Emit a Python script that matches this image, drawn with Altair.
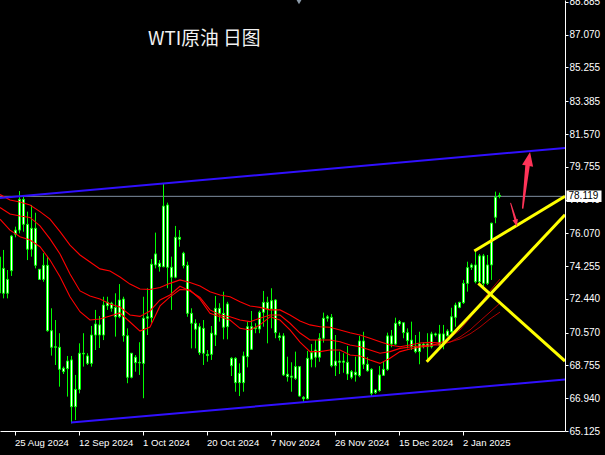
import json
import altair as alt
import pandas as pd

# ---- daily WTI bars (bar index on the time axis, one per trading day) ----
bars = list(range(-1, 125))
opens = [72.77, 74.13, 72.75, 74.00, 76.02, 76.25, 77.95, 76.57, 75.19, 76.35,
         74.08, 73.52, 74.30, 70.68, 69.79, 69.76, 68.60, 68.58, 69.06, 66.47,
         67.43, 69.43, 69.28, 68.87, 70.44, 71.00, 70.44, 72.06, 72.20, 71.97,
         71.45, 72.43, 70.40, 68.10, 69.21, 68.93, 68.87, 71.37, 71.40, 74.32,
         74.41, 74.22, 77.64, 74.19, 73.64, 75.85, 74.97, 74.30, 71.64, 71.09,
         70.90, 69.43, 69.37, 69.37, 70.44, 71.92, 71.64, 70.90, 69.15, 69.15,
         67.80, 67.80, 69.24, 70.90, 70.85, 70.77, 71.70, 72.25, 71.88, 72.38,
         70.39, 70.39, 68.27, 68.17, 68.04, 68.69, 66.99, 66.91, 69.10, 69.61,
         69.21, 70.26, 71.37, 71.42, 69.00, 68.93, 69.00, 68.93, 68.41, 68.23,
         68.19, 70.11, 68.82, 68.54, 67.25, 67.36, 68.21, 68.54, 70.39, 69.94,
         71.05, 71.12, 70.57, 70.16, 69.83, 69.52, 69.93, 69.79, 69.79, 70.50,
         69.89, 69.89, 70.40, 70.62, 71.42, 71.97, 72.23, 73.30, 74.19, 74.32,
         73.39, 74.82, 73.30, 74.32, 76.96, 78.17]
highs = [74.85, 75.15, 74.04, 75.98, 76.44, 78.41, 78.10, 77.27, 77.64, 77.21,
         74.08, 74.97, 74.82, 71.92, 71.27, 70.54, 68.69, 69.28, 69.28, 68.23,
         69.98, 70.54, 69.43, 70.94, 71.83, 71.49, 72.56, 72.56, 72.28, 72.75,
         73.26, 72.56, 70.81, 69.43, 69.33, 70.04, 72.56, 73.03, 74.65, 76.11,
         74.59, 78.80, 77.77, 74.78, 76.48, 76.25, 75.05, 74.50, 71.92, 71.31,
         71.09, 71.27, 69.61, 70.94, 72.60, 72.20, 72.84, 72.28, 69.21, 69.21,
         68.87, 69.52, 71.18, 71.77, 71.09, 71.79, 72.88, 72.56, 73.03, 72.42,
         70.57, 70.54, 69.24, 68.93, 69.52, 68.69, 67.06, 69.56, 69.94, 70.16,
         70.54, 71.68, 71.55, 71.60, 70.44, 69.52, 69.43, 69.83, 68.50, 69.24,
         70.39, 70.62, 69.21, 68.60, 67.43, 68.72, 68.96, 70.57, 70.72, 71.40,
         71.27, 71.12, 70.81, 71.18, 70.44, 70.62, 70.02, 70.54, 70.62, 70.57,
         71.00, 71.00, 70.76, 71.95, 72.23, 72.28, 73.49, 74.50, 74.41, 75.05,
         74.93, 74.93, 74.87, 76.66, 78.38, 78.32]
lows = [72.70, 72.47, 72.47, 73.71, 75.85, 76.07, 76.16, 74.59, 74.78, 74.13,
        73.49, 73.39, 70.62, 69.30, 68.78, 67.58, 68.28, 67.03, 65.55, 65.73,
        67.21, 68.69, 68.78, 68.69, 69.61, 69.72, 70.16, 71.83, 71.73, 70.35,
        71.37, 70.07, 67.77, 68.04, 68.41, 68.23, 66.94, 70.44, 71.12, 74.13,
        73.95, 74.19, 73.03, 71.83, 73.58, 75.33, 74.13, 71.45, 69.70, 69.70,
        69.33, 68.78, 68.96, 69.06, 69.83, 71.18, 70.20, 70.20, 68.17, 67.30,
        67.06, 67.30, 68.65, 69.61, 70.54, 70.54, 70.90, 69.98, 70.81, 70.26,
        70.13, 68.17, 67.86, 67.30, 67.95, 67.03, 66.69, 66.88, 68.65, 68.65,
        68.96, 70.02, 71.18, 68.65, 68.17, 68.28, 68.35, 67.95, 67.99, 67.86,
        68.10, 68.56, 68.41, 67.03, 67.17, 67.30, 68.17, 68.46, 69.76, 69.89,
        70.94, 70.26, 69.70, 69.61, 69.43, 68.82, 69.70, 69.06, 69.70, 70.35,
        69.61, 69.65, 70.35, 70.57, 70.90, 71.92, 72.16, 72.84, 74.04, 73.30,
        73.30, 73.15, 73.21, 73.49, 76.63, 78.01]
closes = [74.76, 72.75, 73.52, 75.92, 76.25, 77.95, 76.57, 75.19, 76.35, 74.30,
          73.52, 74.30, 70.68, 69.76, 69.76, 68.54, 68.41, 69.00, 66.47, 67.43,
          69.43, 69.39, 68.87, 70.44, 71.05, 70.44, 72.10, 72.25, 71.92, 71.45,
          72.38, 70.40, 68.10, 69.43, 68.91, 68.89, 71.37, 71.45, 74.36, 74.93,
          74.22, 77.58, 74.19, 73.64, 75.85, 75.74, 74.28, 71.64, 71.09, 70.76,
          69.46, 70.81, 69.30, 70.54, 71.92, 71.64, 70.87, 72.16, 68.74, 67.80,
          68.32, 69.28, 70.90, 69.65, 70.79, 71.70, 72.25, 71.88, 72.34, 70.57,
          70.30, 68.23, 68.13, 68.10, 68.69, 67.06, 66.91, 69.15, 69.46, 69.21,
          70.26, 71.37, 71.45, 68.74, 68.74, 69.00, 68.93, 68.28, 68.10, 68.38,
          70.11, 68.82, 68.46, 67.21, 67.40, 68.23, 68.54, 70.39, 69.94, 71.09,
          71.18, 70.57, 70.13, 69.79, 69.52, 69.94, 69.79, 69.94, 70.50, 70.44,
          70.50, 70.50, 70.66, 71.45, 72.10, 72.25, 73.30, 74.17, 74.32, 73.39,
          74.82, 73.30, 74.32, 76.63, 78.07, 78.119]

# ---- moving averages, sampled every 2.5 bars ----
ma_first_bar = -0.875
ma_step = 2.5
ma_slow = [78.22, 77.92, 77.81, 77.64, 77.27, 76.86, 76.16, 75.42, 74.87, 74.48,
           74.10, 73.98, 73.65, 73.26, 72.99, 72.96, 73.07, 73.30, 73.49, 73.35,
           73.15, 72.84, 72.66, 72.56, 72.28, 72.05, 71.97, 71.83, 71.83, 71.55,
           71.22, 71.00, 70.90, 70.87, 70.72, 70.57, 70.44, 70.26, 70.07, 69.89,
           69.79, 69.89, 70.00, 70.03, 70.00, 70.05, 70.22, 70.50, 70.88, 71.33,
           71.71]
ma_mid = [77.50, 77.14, 77.03, 76.95, 76.48, 75.76, 74.93, 73.82, 72.88, 72.60,
          72.43, 72.16, 71.99, 71.55, 71.47, 71.77, 72.38, 72.66, 73.14, 72.88,
          72.52, 71.83, 71.55, 71.45, 71.27, 71.18, 71.37, 71.55, 71.55, 71.09,
          70.55, 70.16, 70.16, 70.16, 70.07, 69.89, 69.79, 69.61, 69.43, 69.52,
          69.70, 69.78, 69.83, 69.89, 69.89, 70.05, 70.33, 70.72, 71.22, 71.71,
          72.21]
ma_fast = [76.85, 76.25, 75.88, 75.70, 75.33, 74.59, 73.67, 72.56, 71.73, 71.27,
           71.33, 71.49, 71.66, 71.16, 70.66, 70.88, 72.05, 72.55, 72.96, 72.93,
           72.43, 71.64, 71.45, 71.27, 70.81, 70.72, 71.00, 71.45, 71.27, 70.72,
           70.05, 69.52, 69.52, 69.61, 69.61, 69.33, 69.28, 69.06, 68.87, 69.15,
           69.52, 69.67, 69.78, 69.83, 70.00, 70.28, 70.72, 71.38, 72.16, 72.88,
           73.54]
ma_thin_from = 44  # sample index where the averages are drawn thin

# ---- axes ----
x_domain = [-0.875, 140.375]
y_domain = [65.125, 88.99]
tick_bars = [2.75, 18.75, 34.75, 50.75, 66.75, 82.75, 98.75, 114.75]
tick_labels = ["25 Aug 2024", "12 Sep 2024", "1 Oct 2024", "20 Oct 2024",
               "7 Nov 2024", "26 Nov 2024", "15 Dec 2024", "2 Jan 2025"]
price_ticks = [65.125, 66.940, 68.755, 70.570, 72.440, 74.255, 76.070, 77.940,
               79.755, 81.570, 83.385, 85.255, 87.070, 88.885]

# ---- drawn objects (bar, price) ----
channel_top = {"bar": [-0.875, 140.375], "price": [78.03, 80.80]}
channel_bottom = {"bar": [16.875, 140.375], "price": [65.59, 67.98]}
yellow_lines = {
    "support": {"bar": [105.80, 140.375], "price": [68.96, 77.10]},
    "upper": {"bar": [117.70, 140.375], "price": [75.09, 78.12]},
    "falling": {"bar": [118.70, 140.375], "price": [73.30, 69.00]},
}
arrow_up = {"bar": [129.80, 131.0], "price": [77.47, 79.80], "w": [1.5, 4.5]}
arrow_up_head = {"bar": 131.33, "price": 80.19, "angle": 10}
arrow_down = {"bar": [126.80, 128.10], "price": [77.73, 76.75], "w": [1.0, 2.5]}
arrow_down_head = {"bar": 128.13, "price": 76.64, "angle": 166}

title_text = "WTI原油 日图"
last_price = closes[-1]

GREEN = "#00ff00"
RED = "#ff0000"
BLUE = "#3010ff"
YELLOW = "#ffff00"
PINK = "#ff3358"

x_scale = alt.Scale(domain=x_domain, nice=False, zero=False, padding=0)
y_scale = alt.Scale(domain=y_domain, nice=False, zero=False, padding=0)

label_expr = "{}[indexof({}, datum.value)]".format(json.dumps(tick_labels), json.dumps(tick_bars))
x_axis = alt.Axis(values=tick_bars, labelExpr=label_expr, title=None, grid=False,
                  domainColor="white", tickColor="white", labelColor="white",
                  tickSize=4, labelAlign="left", labelPadding=2,
                  labelFont="Liberation Sans", labelFontSize=9.6,
                  labelOverlap=False, labelBound=False, labelFlush=False)
y_axis = alt.Axis(orient="right", values=price_ticks, format=".3f", title=None, grid=False,
                  domainColor="white", tickColor="white", labelColor="white",
                  tickSize=3, labelPadding=1, labelFont="Liberation Sans", labelFontSize=10,
                  labelOverlap=False, labelBound=False, labelFlush=False)


def X(field):
    return alt.X(f"{field}:Q", scale=x_scale, axis=x_axis)


def Y(field):
    return alt.Y(f"{field}:Q", scale=y_scale, axis=y_axis)


candles = pd.DataFrame({"bar": bars, "open": opens, "high": highs, "low": lows, "close": closes})
candles["top"] = candles[["open", "close"]].max(axis=1)
candles["bottom"] = candles[["open", "close"]].min(axis=1)

ma_rows = []
for name, values in [("slow", ma_slow), ("mid", ma_mid), ("fast", ma_fast)]:
    for i, v in enumerate(values):
        ma_rows.append({"series": name, "i": i, "bar": ma_first_bar + ma_step * i, "price": v})
ma = pd.DataFrame(ma_rows)
ma_thick = ma[ma["i"] <= ma_thin_from]
ma_thin = ma[ma["i"] >= ma_thin_from]


def segment_df(seg, name):
    return pd.DataFrame({"bar": seg["bar"], "price": seg["price"], "name": name})


blue_df = pd.concat([segment_df(channel_top, "top"), segment_df(channel_bottom, "bottom")])
yellow_df = pd.concat([segment_df(v, k) for k, v in yellow_lines.items()])
arrow_df = pd.concat([
    pd.DataFrame({"bar": arrow_up["bar"], "price": arrow_up["price"], "w": arrow_up["w"], "name": "up"}),
    pd.DataFrame({"bar": arrow_down["bar"], "price": arrow_down["price"], "w": arrow_down["w"], "name": "down"}),
])

base = alt.Chart(candles)

wicks = base.mark_rule(color=GREEN, strokeWidth=1).encode(x=X("bar"), y=Y("low"), y2="high")
bodies = base.mark_bar(size=2, fill="white", stroke=GREEN, strokeWidth=1).encode(
    x=X("bar"), y=Y("bottom"), y2="top")

ma_thick_layer = alt.Chart(ma_thick).mark_line(color=RED, strokeWidth=1.1, clip=True).encode(
    x=X("bar"), y=Y("price"), detail="series:N", order="i:Q")
ma_thin_layer = alt.Chart(ma_thin).mark_line(color=RED, strokeWidth=0.7, clip=True).encode(
    x=X("bar"), y=Y("price"), detail="series:N", order="i:Q")

price_line = alt.Chart(pd.DataFrame({"price": [last_price]})).mark_rule(
    color="#7f8fa0", strokeWidth=1).encode(y=Y("price"))

blue_layer = alt.Chart(blue_df).mark_line(color=BLUE, strokeWidth=2, clip=True).encode(
    x=X("bar"), y=Y("price"), detail="name:N")
yellow_layer = alt.Chart(yellow_df).mark_line(color=YELLOW, strokeWidth=3, clip=True).encode(
    x=X("bar"), y=Y("price"), detail="name:N")

arrow_layer = alt.Chart(arrow_df).mark_trail(color=PINK).encode(
    x=X("bar"), y=Y("price"), detail="name:N",
    size=alt.Size("w:Q", scale=None, legend=None))
head_shape = "M0,-1L0.8,1L-0.8,1Z"
head_up = alt.Chart(pd.DataFrame([arrow_up_head])).mark_point(
    shape=head_shape, filled=True, opacity=1, color=PINK, size=196,
    angle=arrow_up_head["angle"]).encode(x=X("bar"), y=Y("price"))
head_down = alt.Chart(pd.DataFrame([arrow_down_head])).mark_point(
    shape=head_shape, filled=True, opacity=1, color=PINK, size=49,
    angle=arrow_down_head["angle"]).encode(x=X("bar"), y=Y("price"))

box_df = pd.DataFrame({"price": [last_price], "label": [f"{last_price:.3f}"],
                       "top": [last_price + 0.32], "bottom": [last_price - 0.32]})
price_box = alt.Chart(box_df).mark_rect(color="white").encode(
    x=alt.value(566.5), x2=alt.value(601.5), y=Y("bottom"), y2="top")
price_text = alt.Chart(box_df).mark_text(
    align="left", baseline="middle", color="black", font="Liberation Sans", fontSize=10).encode(
    x=alt.value(568.5), y=Y("price"), text="label:N")

title = alt.Chart(pd.DataFrame({"t": [title_text]})).mark_text(
    align="left", baseline="alphabetic", color="#f2f2f2", font="Noto Sans CJK SC", fontSize=18.8).encode(
    x=alt.value(148), y=alt.value(45), text="t:N")
shift_marker = alt.Chart(pd.DataFrame({"m": [1]})).mark_point(
    shape="triangle-down", filled=True, opacity=1, color="#8c9aa8", size=55).encode(
    x=alt.value(299), y=alt.value(1))

chart = alt.layer(
    price_line, wicks, bodies, ma_thick_layer, ma_thin_layer, blue_layer, yellow_layer,
    arrow_layer, head_up, head_down, price_box, price_text, title, shift_marker,
).properties(
    width=565, height=431,
    autosize=alt.AutoSizeParams(type="none"),
    padding={"left": 0, "top": 0, "right": 40, "bottom": 24},
    background="#000000",
).configure_view(stroke=None)

chart.save("out.html", embed_options={"renderer": "svg", "actions": False})
